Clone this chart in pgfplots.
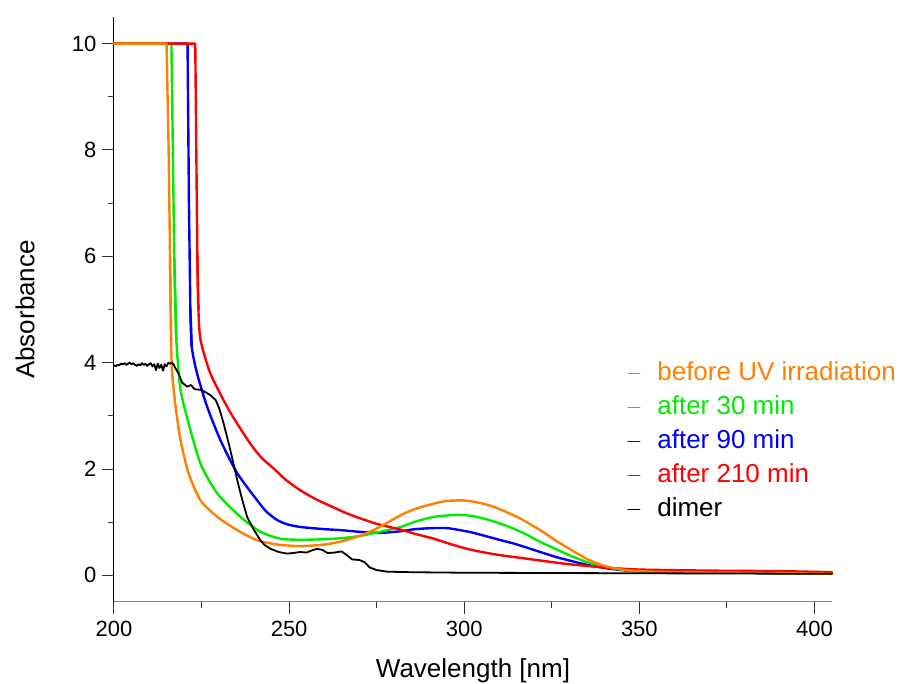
\documentclass[border=0pt]{standalone}
\usepackage{fontspec}
\setmainfont{Liberation Sans}
\usepackage{pgfplots}
\pgfplotsset{compat=1.18}
\definecolor{cOrange}{RGB}{255,128,0}
\definecolor{cGreen}{RGB}{0,235,0}
\definecolor{cBlue}{RGB}{0,0,255}
\definecolor{cRed}{RGB}{255,0,0}
\begin{document}
\begin{tikzpicture}
\begin{axis}[
  at={(0pt,0pt)}, anchor=south west,
  scale only axis, width=718pt, height=585pt,
  xmin=200, xmax=405, ymin=-0.5, ymax=10.5,
  axis x line*=bottom, axis y line*=left,
  x axis line style={draw=gray, line width=1pt},
  y axis line style={draw=black, line width=1pt},
  xtick={200,250,...,400}, ytick={0,2,...,10},
  minor tick num=1,
  tick align=outside,
  major tick length=12pt, minor tick length=6pt,
  every tick/.style={draw=black!80, line width=1pt},
  tick label style={font=\fontsize{22}{24}\selectfont},
  xticklabel style={yshift=-4pt},
  yticklabel style={xshift=-2pt},
  /pgf/number format/assume math mode=true,
  xlabel={Wavelength [nm]}, ylabel={Absorbance},
  label style={font=\fontsize{26}{28}\selectfont},
  xlabel style={at={(axis description cs:0.5,-0.117)}, anchor=center},
  ylabel style={at={(axis description cs:-0.124,0.5)}, anchor=center, rotate=0},
  legend style={draw=none, fill=none, at={(axis description cs:0.7105,0.417)}, anchor=north west,
    font=\fontsize{26}{28}\selectfont, nodes={inner sep=0pt, text height=20pt, text depth=6pt},
    row sep=8pt, column sep=17pt},
  legend cell align=left,
  legend image code/.code={\draw[#1, line width=1pt] (0pt,0pt) -- (12pt,0pt);},
  clip=false,
  every axis plot/.append style={line join=round, line cap=round},
]
% blue (after 90 min)
\addplot[cBlue, line width=2.4pt, forget plot] coordinates {
(200,10) (221.0,10) (221.4,7) (221.8,5) (222.2,4.3)
};
\addplot[cBlue, line width=2.4pt, forget plot, smooth, tension=0.4] coordinates {
(221.8,5) (222.2,4.3) (223.7,3.80) (226.6,3.17) (230.4,2.54) (235.2,1.92) (240.9,1.41) (243.5,1.20) (246.6,1.04) (249.5,0.96) (253.2,0.91) (260,0.87) (265,0.85) (270,0.82) (276,0.80) (281.8,0.83) (286,0.87) (291.3,0.89) (295,0.89) (298,0.86) (302,0.81) (305.5,0.75) (310,0.67) (314.1,0.60) (318,0.52) (321.7,0.44) (326,0.35) (330,0.28) (335,0.20) (340,0.14) (345,0.10) (350,0.08) (370,0.06) (405,0.03)
};
% green (after 30 min)
\addplot[cGreen, line width=2.4pt, forget plot] coordinates {
(200,10) (216.4,10) (216.8,8) (217.2,6) (217.8,4.43)
};
\addplot[cGreen, line width=2.4pt, forget plot, smooth, tension=0.4] coordinates {
(217.2,6) (217.8,4.43) (219,3.49) (221.3,2.86) (224.7,2.10) (229.5,1.54) (236.1,1.10) (241.8,0.82) (247.5,0.69) (253.2,0.67) (260,0.68) (265,0.70) (270,0.74) (276,0.82) (281.8,0.91) (286,1.01) (291.3,1.10) (298,1.14) (302,1.12) (305.5,1.07) (310,0.98) (314.1,0.88) (318,0.76) (321.7,0.63) (326,0.50) (330,0.38) (335,0.25) (340,0.16) (345,0.11) (350,0.08) (370,0.06) (405,0.03)
};
% red (after 210 min)
\addplot[cRed, line width=2.4pt, forget plot] coordinates {
(200,10) (223.2,10) (223.5,8) (223.8,6) (224.1,5.0)
};
\addplot[cRed, line width=2.4pt, forget plot, smooth, tension=0.4] coordinates {
(223.8,6) (224.1,5.0) (224.7,4.43) (227.5,3.80) (232.3,3.17) (235.5,2.82) (239,2.47) (242,2.22) (245.6,2.01) (249,1.80) (253.2,1.60) (258,1.42) (262,1.30) (266,1.18) (270,1.08) (275,0.97) (281.8,0.86) (286,0.78) (291.3,0.69) (296,0.59) (300.8,0.50) (305,0.44) (310.3,0.38) (316,0.33) (321.7,0.28) (330,0.21) (340,0.15) (350,0.11) (370,0.09) (390,0.08) (405,0.06)
};
% orange (before UV)
\addplot[cOrange, line width=2.4pt, forget plot] coordinates {
(200,10) (215.0,10) (215.6,8) (216.0,6) (216.3,4.43)
};
\addplot[cOrange, line width=2.4pt, forget plot, smooth, tension=0.4] coordinates {
(216.0,6) (216.3,4.43) (216.6,3.80) (217.6,3.17) (219,2.54) (221.3,1.92) (224.7,1.41) (229.5,1.10) (235.2,0.85) (240.9,0.66) (246.6,0.58) (253.2,0.55) (260,0.58) (265,0.64) (270,0.74) (275,0.88) (281.8,1.13) (286,1.25) (291.3,1.35) (295,1.40) (299.8,1.41) (304,1.37) (308.4,1.29) (315.1,1.10) (321.7,0.85) (326,0.66) (330,0.50) (335,0.31) (340,0.18) (345,0.11) (350,0.08) (360,0.06) (380,0.05) (405,0.03)
};
% black (dimer)
\addplot[black, line width=1.8pt, forget plot] coordinates {
(200,3.95) (200.5,3.93) (201,3.96) (201.5,3.95) (202,3.98) (202.5,3.97) (203,3.99) (203.5,3.96) (204,3.98) (204.5,4.0) (205,3.97) (205.5,3.99) (206,3.96) (206.5,3.94) (207,3.97) (207.5,3.95) (208,3.99) (208.5,3.96) (209,3.98) (209.5,3.94) (210,3.97) (210.5,3.99) (211,3.93) (211.5,3.97) (212,3.86) (212.5,3.98) (213,3.90) (213.5,3.96) (214,3.85) (214.5,3.97) (215,3.93) (215.5,4.0) (216,3.98) (216.5,4.0) (217,3.97) (217.5,3.9)
(218.4,3.8) (219.5,3.62) (220.9,3.55) (222,3.58) (223,3.50) (224.7,3.49) (226,3.45) (227.5,3.39) (229,3.30) (230,3.15) (231.3,2.86) (233.2,2.36) (235.2,1.79) (236.5,1.45) (238,1.10) (240,0.85) (241.8,0.66) (243,0.57) (244.7,0.50) (247,0.44) (249.4,0.41) (251,0.42) (253.2,0.44) (255,0.43) (256.5,0.47) (258,0.50) (259.5,0.48) (261,0.42) (263,0.43) (265,0.45) (266.5,0.38) (268,0.30) (270,0.29) (271.5,0.25) (273,0.15) (275,0.10) (278,0.07) (285,0.06) (300,0.05) (350,0.04) (405,0.03)
};
\addlegendimage{cOrange}
\addlegendentry{\textcolor{cOrange}{before UV irradiation}}
\addlegendimage{cGreen}
\addlegendentry{\textcolor{cGreen}{after 30 min}}
\addlegendimage{cBlue}
\addlegendentry{\textcolor{cBlue}{after 90 min}}
\addlegendimage{cRed}
\addlegendentry{\textcolor{cRed}{after 210 min}}
\addlegendimage{black}
\addlegendentry{dimer}
\end{axis}
\pgfresetboundingbox
\path[use as bounding box] (-114pt,-82pt) rectangle (789pt,602pt);
\end{tikzpicture}
\end{document}
